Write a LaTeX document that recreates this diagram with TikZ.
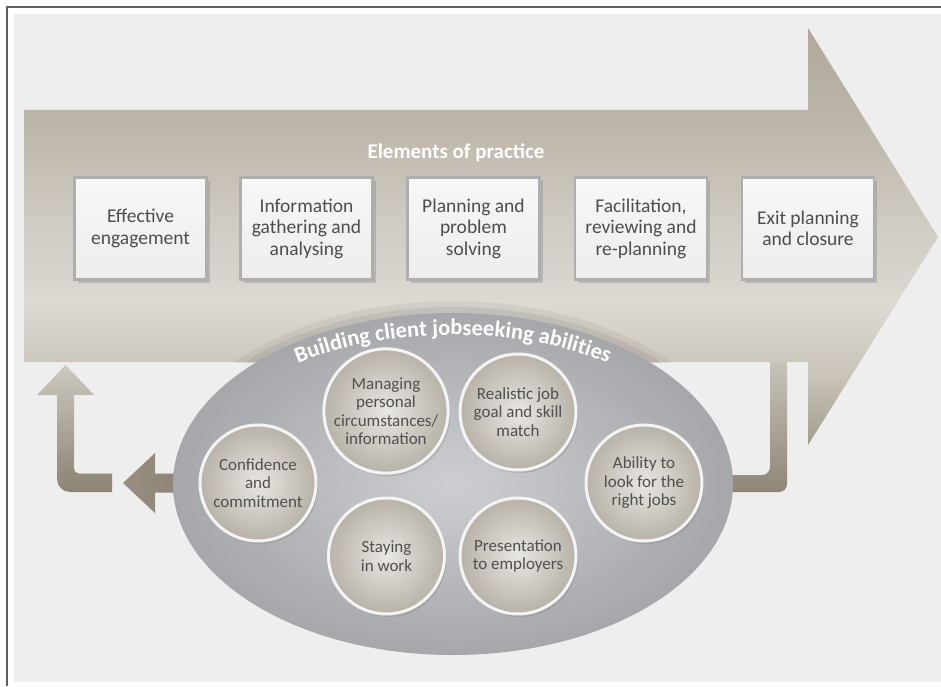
\documentclass[tikz,border=0pt]{standalone}
\usepackage{fontspec}
\setmainfont{Carlito}
\usetikzlibrary{shapes.geometric,shadows,decorations.text}

\definecolor{panelgray}{HTML}{EEEEEE}
\definecolor{framegray}{HTML}{5F5F5F}
\definecolor{bandA}{HTML}{A39B8D}
\definecolor{bandB}{HTML}{C8C2B8}
\definecolor{bandC}{HTML}{DDD9D3}
\definecolor{bandD}{HTML}{CFCAC2}
\definecolor{bandE}{HTML}{BAB3A7}
\definecolor{bandF}{HTML}{B0A99B}
\definecolor{boxedge}{HTML}{AEAEAE}
\definecolor{boxtop}{HTML}{F7F7F6}
\definecolor{boxbottom}{HTML}{EEEDEB}
\definecolor{boxtext}{HTML}{4D4D4D}
\definecolor{ovalinner}{HTML}{CDCED1}
\definecolor{ovalouter}{HTML}{A6A7AB}
\definecolor{discinner}{HTML}{E9E7E3}
\definecolor{discouter}{HTML}{B8B2A8}
\definecolor{discring}{HTML}{F4F4F4}
\definecolor{disctext}{HTML}{505050}
\definecolor{linktop}{HTML}{CBC6BD}
\definecolor{linkbottom}{HTML}{8E8676}
\definecolor{backdark}{HTML}{8B8373}
\definecolor{backhead}{HTML}{988F80}

\pgfdeclareverticalshading{bandshade}{100bp}{color(0bp)=(bandA); color(25bp)=(bandA);
  color(33bp)=(bandB); color(42bp)=(bandC); color(52bp)=(bandD); color(65bp)=(bandE);
  color(75bp)=(bandF); color(100bp)=(bandF)}

\tikzset{
  practice/.style={rectangle, draw=boxedge, line width=2.5pt, top color=boxtop,
    bottom color=boxbottom, minimum width=132pt, minimum height=102pt, align=center,
    text=boxtext, font=\fontsize{19.5}{21.5}\selectfont,
    drop shadow={shadow xshift=3pt, shadow yshift=-4pt, opacity=0.35}},
  ability/.style={circle, draw=discring, line width=3pt, inner color=discinner,
    outer color=discouter, minimum size=116pt, inner sep=0pt, align=center,
    text=disctext, font=\fontsize{17}{18.5}\selectfont,
    drop shadow={shadow xshift=2pt, shadow yshift=-3pt, opacity=0.3}},
  heading/.style={text=white, font=\fontsize{21}{24}\selectfont\bfseries},
  link/.style={top color=linktop, bottom color=linkbottom}
}

\begin{document}
\begin{tikzpicture}[x=1pt, y=1pt]
  \useasboundingbox (0,0) rectangle (941,686);
  \fill[white] (0,0) rectangle (941,686);
  \draw[framegray, line width=1.2pt] (7,0) |- (941,679);
  \fill[panelgray] (14,4) rectangle (941,672);

  \coordinate (ovalcentre) at (453,202);

  % feedback loop
  \shade[link, rounded corners=8pt] (721,194) -- ++(66,0) -- ++(0,136) -- ++(-17,0)
    -- ++(0,-119) -- ++(-49,0) -- cycle;
  \shade[left color=backhead, right color=backdark] (185,212.5) -- ++(-30,0) -- ++(0,20.5)
    -- ++(-32,-30) -- ++(32,-30) -- ++(0,20.5) -- ++(30,0) -- cycle;
  \shade[top color=linktop!95!white, bottom color=backdark] (112,212.5) -- (79,212.5)
    arc[start angle=270, end angle=180, radius=5] -- (74,291) -- (94,291) -- (65.5,321)
    -- (37,291) -- (57,291) -- (57,207) arc[start angle=180, end angle=270, radius=13]
    -- (112,194) -- cycle;

  % main arrow
  \shade[shading=bandshade] (24,576) -- (808,576) -- (808,658) -- (938,449) -- (808,241)
    -- (808,324) -- (24,324) -- cycle;

  \begin{scope}
    \clip (24,324) rectangle (808,576);
    \fill[black, opacity=0.05] (ovalcentre) ellipse[x radius=292, y radius=183];
    \fill[black, opacity=0.06] (ovalcentre) ellipse[x radius=286, y radius=177];
  \end{scope}
  \node[ellipse, minimum width=560pt, minimum height=342pt, inner sep=0pt,
    inner color=ovalinner, outer color=ovalouter] (abilities) at (ovalcentre) {};

  \node[heading] (practicetitle) at (456,533) {Elements of practice};
  \node[practice] (engage) at (140.5,457.5) {Effective\\engagement};
  \node[practice] (gather) at (306.5,457.5) {Information\\gathering and\\analysing};
  \node[practice] (plan) at (473.5,457.5) {Planning and\\problem\\solving};
  \node[practice] (review) at (641,457.5) {Facilitation,\\reviewing and\\re-planning};
  \node[practice] (exit) at (808,457.5) {Exit planning\\and closure};

  \path[decorate, decoration={text along path, text align=center,
    text={|\fontsize{22.5}{26}\selectfont\bfseries\color{white}|Building client jobseeking abilities}}]
    (ovalcentre) ++(160:265 and 149) arc[start angle=160, end angle=20, x radius=265, y radius=149];

  \node[ability] (confidence) at (258,203) {Confidence\\and\\commitment};
  \node[ability] (circumstances) at (386,275) {Managing\\personal\\circumstances/\\information};
  \node[ability] (goal) at (518,274) {Realistic job\\goal and skill\\match};
  \node[ability] (search) at (644,203) {Ability to\\look for the\\right jobs};
  \node[ability] (staying) at (386.5,130) {Staying\\in work};
  \node[ability] (presenting) at (518,130) {Presentation\\to employers};
\end{tikzpicture}
\end{document}
